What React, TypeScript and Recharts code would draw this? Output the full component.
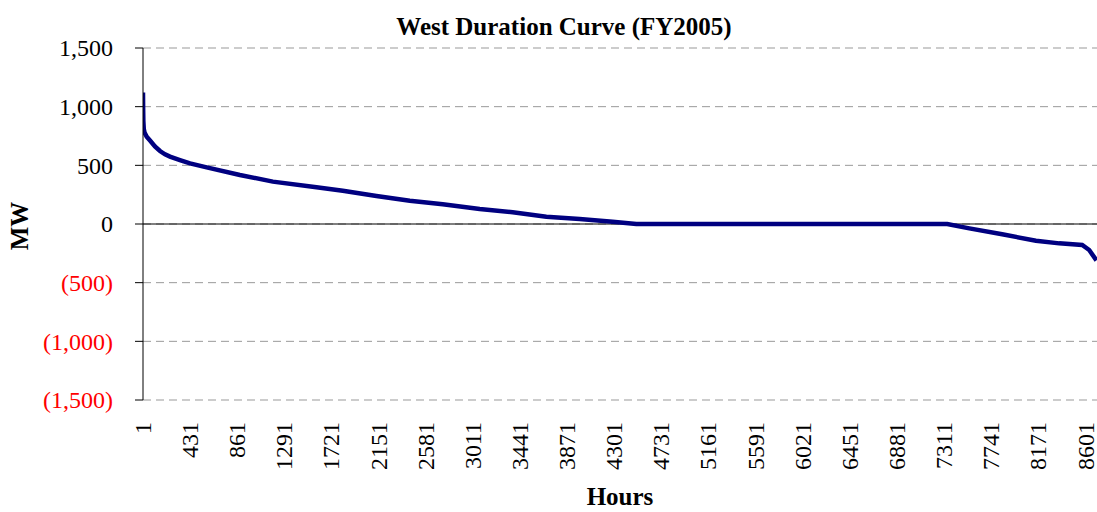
import React from "react";
import { LineChart, Line, XAxis, YAxis, CartesianGrid, ReferenceLine } from "recharts";

const hours = [1, 2, 4, 8, 15, 35, 65, 110, 156, 202, 247, 338, 430, 582, 885, 1186, 1584, 1824, 2131, 2435, 2736, 3073, 3374, 3681, 3985, 4286, 4502, 5000, 6000, 7000, 7339, 7540, 7840, 8148, 8360, 8570, 8634, 8700];
const mw = [1120, 1000, 880, 810, 780, 744, 712, 662, 622, 594, 574, 545, 517, 483, 418, 361, 313, 284, 239, 199, 168, 128, 100, 62, 43, 20, 0, 0, 0, 0, 0, -37, -88, -142, -165, -179, -222, -310];
const xTicks = [1, 431, 861, 1291, 1721, 2151, 2581, 3011, 3441, 3871, 4301, 4731, 5161, 5591, 6021, 6451, 6881, 7311, 7741, 8171, 8601];
const yTicks = [-1500, -1000, -500, 0, 500, 1000, 1500];

const data = hours.map((h, i) => ({ hour: h, mw: mw[i] }));

const FONT = '"Liberation Serif", "Times New Roman", serif';

const fmtY = (v: number) => {
  const s = Math.abs(v).toLocaleString("en-US");
  return v < 0 ? `(${s})` : s;
};

const YTick = (props: any) => {
  const { x, y, payload } = props;
  const v = payload.value as number;
  return (
    <text x={x} y={y} dy="0.35em" textAnchor="end" fontFamily={FONT} fontSize={24} fill={v < 0 ? "#ff0000" : "#000000"}>
      {fmtY(v)}
    </text>
  );
};

const XTick = (props: any) => {
  const { x, payload } = props;
  const ty = 422;
  return (
    <text x={x} y={ty} dy="0.33em" textAnchor="end" transform={`rotate(-90 ${x} ${ty})`} fontFamily={FONT} fontSize={24} fill="#000000">
      {payload.value}
    </text>
  );
};

export default function App() {
  return (
    <div style={{ position: "absolute", left: 0, top: 0, width: 1097, height: 512, background: "#ffffff" }}>
      <LineChart width={1097} height={512} data={data} margin={{ top: 48, right: 0, bottom: 0, left: 0 }}>
        <CartesianGrid horizontal vertical={false} stroke="#999999" strokeDasharray="8 5" />
        <XAxis
          dataKey="hour"
          type="number"
          domain={[1, 8705]}
          ticks={xTicks}
          allowDataOverflow
          axisLine={false}
          tickLine={false}
          height={112}
          tick={<XTick />}
          interval={0}
        />
        <YAxis
          type="number"
          domain={[-1500, 1500]}
          ticks={yTicks}
          width={143}
          axisLine={{ stroke: "#000000" }}
          tickLine={{ stroke: "#000000" }}
          tickSize={8}
          tickMargin={22}
          tick={<YTick />}
          interval={0}
        />
        <ReferenceLine y={0} stroke="#000000" strokeWidth={1} />
        <Line type="linear" dataKey="mw" stroke="#000080" strokeWidth={4.5} dot={false} isAnimationActive={false} />
      </LineChart>
      <svg width={1097} height={512} style={{ position: "absolute", left: 0, top: 0, pointerEvents: "none" }}>
        <text x={564} y={35} textAnchor="middle" fontFamily={FONT} fontSize={25} fontWeight="bold" fill="#000000">
          West Duration Curve (FY2005)
        </text>
        <text x={28} y={226} textAnchor="middle" transform="rotate(-90 28 226)" fontFamily={FONT} fontSize={25} fontWeight="bold" fill="#000000">
          MW
        </text>
        <text x={620} y={505} textAnchor="middle" fontFamily={FONT} fontSize={25} fontWeight="bold" fill="#000000">
          Hours
        </text>
      </svg>
    </div>
  );
}
